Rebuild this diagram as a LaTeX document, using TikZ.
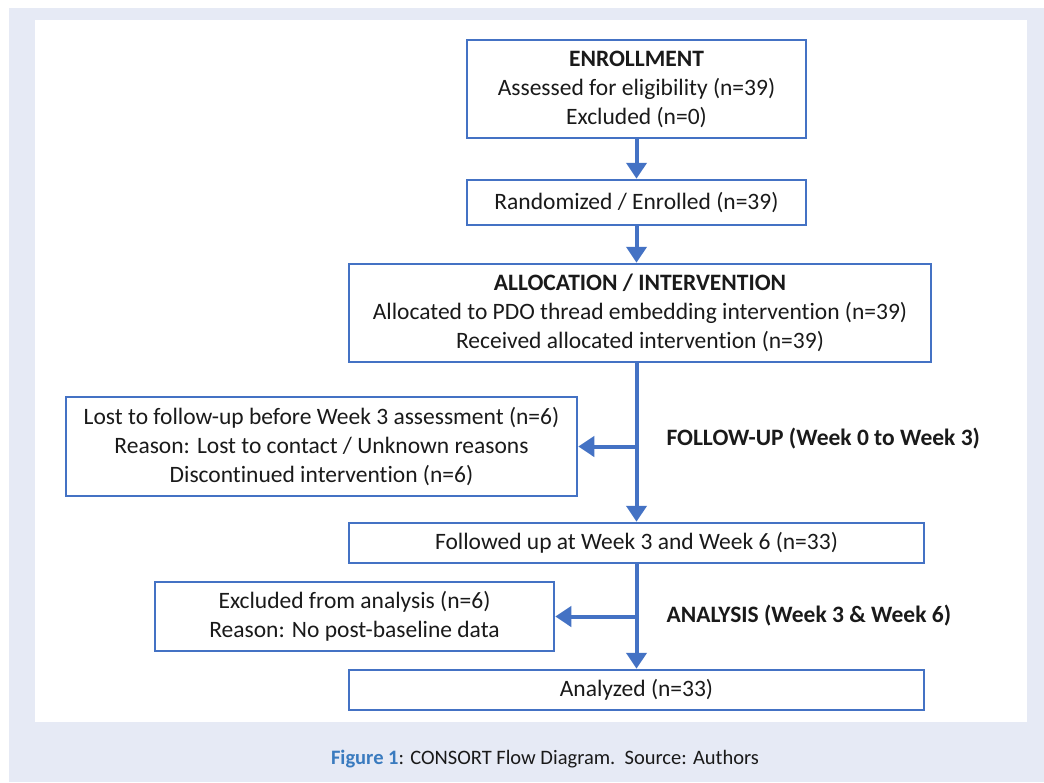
\documentclass[tikz,border=0pt]{standalone}
\usepackage{fontspec}
\setmainfont{Carlito}[Ligatures=NoCommon]
\usetikzlibrary{arrows.meta}
\definecolor{boxblue}{HTML}{4472C4}
\definecolor{panel}{HTML}{E6EAF5}
\definecolor{capblue}{HTML}{3A7BBF}
\definecolor{ink}{HTML}{1A1A1A}
\tikzset{
  box/.style={draw=boxblue, line width=2.5pt, align=center, inner sep=0pt,
    text=ink, font=\fontsize{23.5}{29}\selectfont},
  flow/.style={draw=boxblue, line width=4pt, -{Triangle[width=20pt,length=16pt]}},
  stage/.style={anchor=west, text=ink, font=\fontsize{23.5}{28}\selectfont\bfseries}
}
\begin{document}
\begin{tikzpicture}[x=1pt, y=-1pt]
\useasboundingbox (0,0) rectangle (1044,782);
\fill[panel] (9,8) rectangle (1044,782);
\fill[white] (35,20) rectangle (1027,722);
% boxes
\node[box, minimum width=339pt, minimum height=98pt] (enroll) at (636.5,89)
  {\textbf{ENROLLMENT}\\Assessed for eligibility (n=39)\\Excluded (n=0)};
\node[box, minimum width=339pt, minimum height=45pt] (rand) at (636.5,202.5)
  {Randomized / Enrolled (n=39)};
\node[box, minimum width=582pt, minimum height=98pt] (alloc) at (640,313)
  {\textbf{ALLOCATION / INTERVENTION}\\Allocated to PDO thread embedding intervention (n=39)\\Received allocated intervention (n=39)};
\node[box, minimum width=511pt, minimum height=99pt] (lost) at (321.5,446.5)
  {Lost to follow-up before Week 3 assessment (n=6)\\Reason: Lost to contact / Unknown reasons\\Discontinued intervention (n=6)};
\node[box, minimum width=575pt, minimum height=40pt] (follow) at (636.5,543)
  {Followed up at Week 3 and Week 6 (n=33)};
\node[box, minimum width=399pt, minimum height=69pt] (excl) at (354.5,616.5)
  {Excluded from analysis (n=6)\\Reason: No post-baseline data};
\node[box, minimum width=575pt, minimum height=40pt] (anal) at (636.5,690)
  {Analyzed (n=33)};
% stage labels
\node[stage] (fu) at (663,439) {FOLLOW-UP (Week 0 to Week 3)};
\node[stage] (an) at (663,616) {ANALYSIS (Week 3 \& Week 6)};
% arrows
\coordinate (b1) at (636.5,446.5);
\coordinate (b2) at (636.5,616.5);
\draw[flow] (enroll) -- (rand);
\draw[flow] (rand) -- (rand.south |- alloc.north);
\draw[flow] (rand.south |- alloc.south) -- (follow);
\draw[flow] (b1) -- (lost);
\draw[flow] (follow) -- (anal);
\draw[flow] (b2) -- (excl);
% caption
\node[text=ink, font=\fontsize{20.5}{24}\selectfont] (cap) at (545,759)
  {\textcolor{capblue}{\textbf{Figure 1}}: CONSORT Flow Diagram.\ \ Source: Authors};
\end{tikzpicture}
\end{document}
